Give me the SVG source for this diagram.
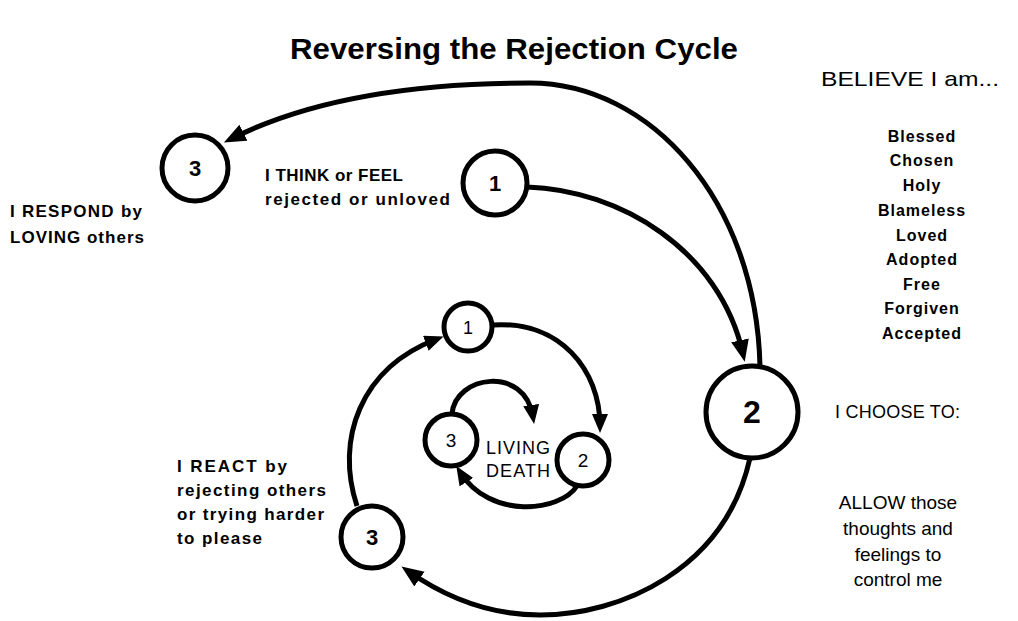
<svg xmlns="http://www.w3.org/2000/svg" width="1018" height="621" viewBox="0 0 1018 621">
<style>
.n{fill:#fff;stroke:#000;stroke-width:5}
.c{fill:none;stroke:#000;stroke-width:5}
.t{font-family:"Liberation Sans",Arial,sans-serif;fill:#000}
.b{font-weight:bold;font-size:17px}
.num{text-anchor:middle}
.lst{font-weight:bold;font-size:16px;letter-spacing:1px;text-anchor:middle}
.r{font-size:19px;text-anchor:middle}
</style>
<defs>
<marker id="ah" markerUnits="userSpaceOnUse" markerWidth="24" markerHeight="20" refX="14" refY="9" orient="auto">
<path d="M0,0 L22,9 L0,18 z" fill="#000"/>
</marker>
<marker id="as" markerUnits="userSpaceOnUse" markerWidth="22" markerHeight="18" refX="12" refY="8" orient="auto">
<path d="M0,0 L19,8 L0,16 z" fill="#000"/>
</marker>
</defs>
<rect width="1018" height="621" fill="#fff"/>
<text class="t" x="290" y="59" font-size="29" font-weight="bold" textLength="448" lengthAdjust="spacingAndGlyphs">Reversing the Rejection Cycle</text>
<g id="connectors">
<path class="c" d="M760 366 C756 200 650 83 530 83 C400 83 300 104 231 139" marker-end="url(#ah)"/>
<path class="c" d="M527 187 C620 190 720 250 743 354" marker-end="url(#ah)"/>
<path class="c" d="M750 458 C725 570 620 615 540 615 C490 615 445 597 408 571" marker-end="url(#ah)"/>
<path class="c" d="M357 506 C335 440 360 368 437 339" marker-end="url(#as)"/>
<path class="c" d="M492 325 C560 320 600 370 600 426" marker-end="url(#as)"/>
<path class="c" d="M577 486 C560 512 490 520 460 472" marker-end="url(#as)"/>
<path class="c" d="M452 414 C455 375 525 365 533 417" marker-end="url(#as)"/>
</g>
<g id="node-3-top">
<circle class="n" cx="195" cy="168" r="33"/>
<text class="t num" x="195" y="176" font-size="22" font-weight="bold">3</text>
</g>
<g id="node-1-top">
<circle class="n" cx="495" cy="183" r="32"/>
<text class="t num" x="495" y="191" font-size="22" font-weight="bold">1</text>
</g>
<g id="node-2-big">
<circle class="n" cx="752" cy="412" r="46"/>
<text class="t num" x="752" y="423" font-size="32" font-weight="bold">2</text>
</g>
<g id="node-1-inner">
<circle class="n" cx="468" cy="327" r="24"/>
<text class="t num" x="468" y="334" font-size="18">1</text>
</g>
<g id="node-3-inner">
<circle class="n" cx="451" cy="440" r="26"/>
<text class="t num" x="451" y="447" font-size="19">3</text>
</g>
<g id="node-2-inner">
<circle class="n" cx="583" cy="460" r="26"/>
<text class="t num" x="583" y="467" font-size="19">2</text>
</g>
<g id="node-3-bottom">
<circle class="n" cx="372" cy="537" r="31"/>
<text class="t num" x="372" y="545" font-size="22" font-weight="bold">3</text>
</g>
<g id="labels">
<text class="t b" x="10" y="217" textLength="132">I RESPOND by</text>
<text class="t b" x="10" y="243" textLength="134">LOVING others</text>
<text class="t b" x="265" y="181" textLength="138">I THINK or FEEL</text>
<text class="t b" x="265" y="205" textLength="185">rejected or unloved</text>
<text class="t" x="486" y="454" font-size="18" textLength="64">LIVING</text>
<text class="t" x="486" y="477" font-size="18" textLength="64">DEATH</text>
<text class="t b" x="177" y="472" textLength="110">I REACT by</text>
<text class="t b" x="177" y="496" textLength="149">rejecting others</text>
<text class="t b" x="177" y="520" textLength="147">or trying harder</text>
<text class="t b" x="177" y="544" textLength="85">to please</text>
<text class="t" x="821" y="86" font-size="21" textLength="178" lengthAdjust="spacingAndGlyphs">BELIEVE I am...</text>
<text class="t lst" x="922" y="142">Blessed</text>
<text class="t lst" x="922" y="166">Chosen</text>
<text class="t lst" x="922" y="191">Holy</text>
<text class="t lst" x="922" y="216">Blameless</text>
<text class="t lst" x="922" y="241">Loved</text>
<text class="t lst" x="922" y="265">Adopted</text>
<text class="t lst" x="922" y="290">Free</text>
<text class="t lst" x="922" y="314">Forgiven</text>
<text class="t lst" x="922" y="339">Accepted</text>
<text class="t" x="835" y="418" font-size="18" textLength="125">I CHOOSE TO:</text>
<text class="t r" x="898" y="509">ALLOW those</text>
<text class="t r" x="898" y="535">thoughts and</text>
<text class="t r" x="898" y="561">feelings to</text>
<text class="t r" x="898" y="586">control me</text>
</g>
</svg>
